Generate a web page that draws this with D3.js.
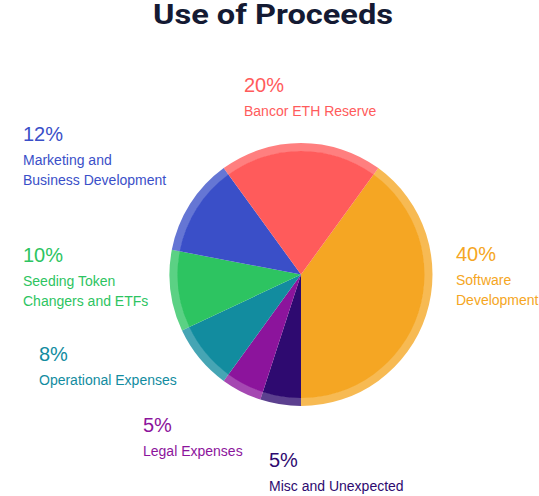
<!DOCTYPE html>
<html>
<head>
	<meta charset="utf-8">
	<title>Use of Proceeds</title>
	<script src="https://cdn.jsdelivr.net/npm/d3@7/dist/d3.min.js"></script>
	<style>
		body{ margin: 0; background: #fff; }
		.pct{ font-family: "Liberation Sans", Arial, sans-serif; font-size: 20px; }
		.lbl{ font-family: "Liberation Sans", Arial, sans-serif; font-size: 14px; }
	</style>
</head>
<body>
	<div id="chart"></div>
	<script>
		// slices, clockwise starting from the orange one
		var categories = ['Software Development', 'Misc and Unexpected', 'Legal Expenses',
			'Operational Expenses', 'Seeding Token Changers and ETFs',
			'Marketing and Business Development', 'Bancor ETH Reserve'];
		var values = [40, 5, 5, 8, 10, 12, 20];
		var colors = ['#f5a623', '#2e0a70', '#8c149c', '#128c9f', '#2dc461', '#3a4fc8', '#ff5b5b'];
		// label lines as drawn beside the pie
		var labelLines = [
			['Software', 'Development'],
			['Misc and Unexpected'],
			['Legal Expenses'],
			['Operational Expenses'],
			['Seeding Token', 'Changers and ETFs'],
			['Marketing and', 'Business Development'],
			['Bancor ETH Reserve']
		];
		var labelPos = [[456, 261], [269, 467], [143, 432], [39, 361], [23, 262], [23, 141], [244, 92]];

		var width = 539, height = 496;
		var cx = 301, cy = 274.5, r = 131.5, rInner = 123.5;

		var svg = d3.select('#chart').append('svg')
			.attr('width', width)
			.attr('height', height);

		svg.append('text')
			.attr('x', 273)
			.attr('y', 24)
			.attr('text-anchor', 'middle')
			.attr('textLength', 240)
			.attr('lengthAdjust', 'spacingAndGlyphs')
			.style('font-family', 'Roboto, sans-serif')
			.style('font-weight', 'bold')
			.style('font-size', '28px')
			.style('fill', '#141a33')
			.text('Use of Proceeds');

		var pie = d3.pie().sort(null)
			.startAngle(Math.PI / 5)
			.endAngle(Math.PI / 5 + 2 * Math.PI);
		var arcs = pie(values);

		var g = svg.append('g').attr('transform', 'translate(' + cx + ',' + cy + ')');

		// lighter outer ring
		g.selectAll('path.ring').data(arcs).enter().append('path')
			.attr('class', 'ring')
			.attr('d', d3.arc().innerRadius(rInner - 0.5).outerRadius(r))
			.attr('fill', function(d, i){ return colors[i]; })
			.attr('fill-opacity', 0.78);

		g.selectAll('path.slice').data(arcs).enter().append('path')
			.attr('class', 'slice')
			.attr('d', d3.arc().innerRadius(0).outerRadius(rInner))
			.attr('fill', function(d, i){ return colors[i]; });

		var labels = svg.selectAll('g.label').data(categories).enter().append('g')
			.attr('class', 'label')
			.attr('transform', function(d, i){ return 'translate(' + labelPos[i][0] + ',' + labelPos[i][1] + ')'; })
			.style('fill', function(d, i){ return colors[i]; });

		labels.append('text')
			.attr('class', 'pct')
			.text(function(d, i){ return values[i] + '%'; });

		labels.each(function(d, i){
			var sel = d3.select(this);
			labelLines[i].forEach(function(line, k){
				sel.append('text')
					.attr('class', 'lbl')
					.attr('y', 24 + k * 19.5)
					.text(line);
			});
		});
	</script>
</body>
</html>
